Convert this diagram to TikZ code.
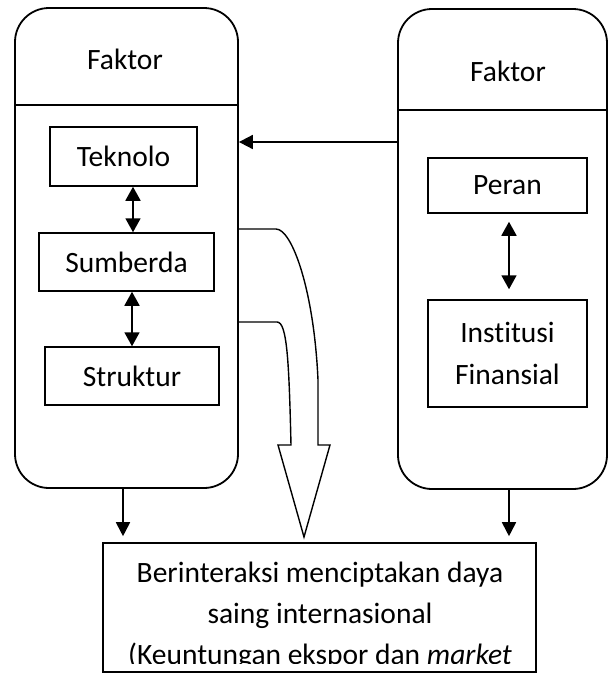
\documentclass[tikz,border=0pt]{standalone}
\usepackage{fontspec}
\setmainfont{Carlito}[Ligatures=NoCommon]
\usetikzlibrary{arrows.meta}
\begin{document}
\begin{tikzpicture}[x=1pt,y=-1pt,
  line width=1.6pt,
  bigbox/.style={draw, line width=1.8pt, rounded corners=34pt, inner sep=0pt},
  smallbox/.style={draw, line width=1.5pt, inner sep=0pt, font=\fontsize{29.5}{34}\selectfont, align=center},
  title/.style={font=\fontsize{29.5}{34}\selectfont, anchor=base},
  conn/.style={line width=1.8pt, -{Triangle[length=14pt,width=14pt]}},
  dconn/.style={line width=1.8pt, {Triangle[length=14pt,width=15pt]}-{Triangle[length=14pt,width=15pt]}}]
\useasboundingbox (0,0) rectangle (609,673);
% big rounded boxes
\node[bigbox, minimum width=223pt, minimum height=480pt] (lbox) at (126.5,248) {};
\node[bigbox, minimum width=209pt, minimum height=480pt] (rbox) at (502.5,249) {};
\coordinate (ldiv) at (0,105);
\coordinate (rdiv) at (0,110);
\draw[line width=1.8pt] (lbox.west |- ldiv) -- (lbox.east |- ldiv);
\draw[line width=1.8pt] (rbox.west |- rdiv) -- (rbox.east |- rdiv);
\node[title] (ltitle) at (125,69) {Faktor};
\node[title] (rtitle) at (508,81) {Faktor};
% inner boxes
\node[smallbox, minimum width=147pt, minimum height=59pt] (tek) at (123.5,156.5) {Teknolo};
\node[smallbox, minimum width=175pt, minimum height=58pt] (sum) at (126.5,262) {Sumberda};
\node[smallbox, minimum width=174pt, minimum height=58pt] (str) at (132,376) {Struktur};
\node[smallbox, minimum width=159pt, minimum height=55pt] (per) at (507.5,185.5) {Peran};
\node[smallbox, minimum width=159pt, minimum height=107pt, font=\fontsize{29.5}{42}\selectfont] (ins) at (507.5,353.5) {Institusi\\Finansial};
% result box
\node[draw, line width=1.6pt, inner sep=0pt, minimum width=433pt, minimum height=129pt] (res) at (319.5,607.5) {};
\coordinate (cliplow) at (0,663);
\begin{scope}
\clip (res.north west) rectangle (res.east |- cliplow);
\node[anchor=north, inner sep=0pt, align=center, font=\fontsize{29.5}{41}\selectfont] (restext) at (320,553.3) {\strut Berinteraksi menciptakan daya\\saing internasional\\(Keuntungan ekspor dan \textit{market}};
\end{scope}
% connectors
\coordinate (ha) at (0,142);
\draw[conn] (rbox.west |- ha) -- (lbox.east |- ha);
\coordinate (c1) at (133,0);
\coordinate (c2) at (132,0);
\coordinate (c3) at (509,0);
\draw[dconn] (tek.south -| c1) -- (sum.north -| c1);
\draw[dconn] (sum.south -| c2) -- (str.north -| c2);
\draw[dconn, shorten <=8pt, shorten >=10pt] (per.south -| c3) -- (ins.north -| c3);
\coordinate (d1) at (123,0);
\draw[conn, shorten >=6pt] (lbox.south -| d1) -- (res.north -| d1);
\draw[conn, shorten >=6pt] (rbox.south -| c3) -- (res.north -| c3);
% hollow curved arrow
\coordinate (h1) at (0,229);
\coordinate (h2) at (0,322);
\draw[line width=1.4pt, line join=miter]
  (lbox.east |- h1) -- (276,229) .. controls (292,229) and (314,290) .. (318,380)
  -- (318,445) -- (330,445) -- (304,537) -- (278,445) -- (291,445)
  .. controls (289,360) and (287,322) .. (277,322) -- (lbox.east |- h2);
\end{tikzpicture}
\end{document}
